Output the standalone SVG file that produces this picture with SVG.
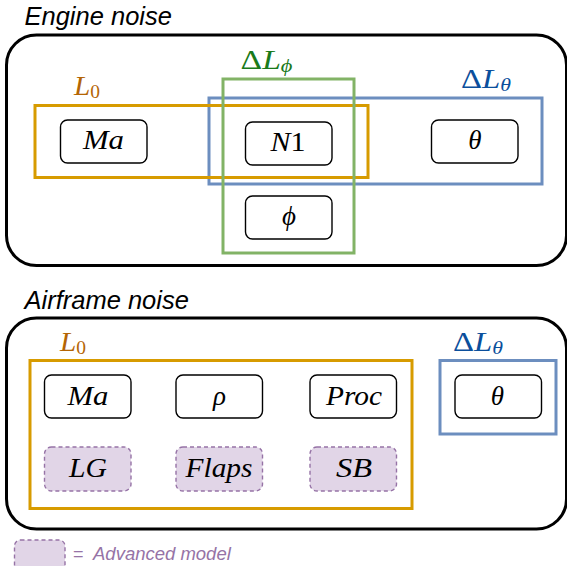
<svg xmlns="http://www.w3.org/2000/svg" width="567" height="566" viewBox="0 0 567 566">
<style>
.title{font-family:"Liberation Sans",Arial,sans-serif;font-style:italic;font-size:25.5px;fill:#000}
.outer{fill:none;stroke:#000;stroke-width:3}
.node rect{fill:#fff;stroke:#000;stroke-width:1.4}
.adv rect{fill:#e1d5e7;stroke:#9673a6;stroke-width:1.4;stroke-dasharray:4 3}
.m{font-family:"Liberation Serif","Times New Roman",serif;font-style:italic;font-size:27px;fill:#000;text-anchor:middle}
.lab{font-family:"Liberation Serif","Times New Roman",serif;font-size:27px}
.sub{font-size:18px}
.org{fill:none;stroke:#d79b00;stroke-width:3}
.blu{fill:none;stroke:#6c8ebf;stroke-width:3}
.grn{fill:none;stroke:#82b366;stroke-width:3}
</style>
<text class="title" x="24.5" y="25">Engine noise</text>
<rect class="outer" x="6.5" y="35" width="560" height="230.5" rx="30"/>
<g id="engine-groups">
<rect class="blu" x="209" y="98" width="333" height="86"/>
<rect class="org" x="35" y="105.5" width="333" height="72"/>
<rect class="grn" x="223" y="79" width="131" height="174"/>
</g>
<text class="lab" x="74" y="95" fill="#b46504" textLength="26" lengthAdjust="spacingAndGlyphs"><tspan font-style="italic">L</tspan><tspan class="sub" dy="3">0</tspan></text>
<text class="lab" x="240.5" y="69" fill="#1a7a1a" textLength="52" lengthAdjust="spacingAndGlyphs">Δ<tspan font-style="italic">L</tspan><tspan class="sub" font-style="italic" dy="3">ϕ</tspan></text>
<text class="lab" x="461" y="88" fill="#0b4f9c" textLength="50" lengthAdjust="spacingAndGlyphs">Δ<tspan font-style="italic">L</tspan><tspan class="sub" font-style="italic" dy="3">θ</tspan></text>
<g id="e-ma" class="node"><rect x="60.5" y="120" width="86.5" height="43" rx="7"/><text class="m" x="103.5" y="149" textLength="41" lengthAdjust="spacingAndGlyphs">Ma</text></g>
<g id="e-n1" class="node"><rect x="245.5" y="122" width="86.5" height="43" rx="7"/><text class="m" x="288" y="151" textLength="35" lengthAdjust="spacingAndGlyphs">N<tspan font-style="normal">1</tspan></text></g>
<g id="e-theta" class="node"><rect x="431.5" y="120" width="86.5" height="43" rx="7"/><text class="m" x="475" y="149">θ</text></g>
<g id="e-phi" class="node"><rect x="245.5" y="196" width="86.5" height="43" rx="7"/><text class="m" x="289" y="225">ϕ</text></g>

<text class="title" x="24.5" y="309">Airframe noise</text>
<rect class="outer" x="6.5" y="318" width="560" height="211" rx="30"/>
<text class="lab" x="60" y="351" fill="#b46504" textLength="26" lengthAdjust="spacingAndGlyphs"><tspan font-style="italic">L</tspan><tspan class="sub" dy="3">0</tspan></text>
<text class="lab" x="453" y="351" fill="#0b4f9c" textLength="50" lengthAdjust="spacingAndGlyphs">Δ<tspan font-style="italic">L</tspan><tspan class="sub" font-style="italic" dy="3">θ</tspan></text>
<g id="airframe-groups">
<rect class="org" x="30" y="360.5" width="382" height="148"/>
<rect class="blu" x="440" y="360.5" width="116" height="73.5"/>
</g>
<g id="a-ma" class="node"><rect x="44.5" y="375" width="86.5" height="43" rx="7"/><text class="m" x="88" y="405" textLength="41" lengthAdjust="spacingAndGlyphs">Ma</text></g>
<g id="a-rho" class="node"><rect x="176" y="375" width="86.5" height="43" rx="7"/><text class="m" x="219.5" y="405">ρ</text></g>
<g id="a-proc" class="node"><rect x="310" y="375" width="86.5" height="43" rx="7"/><text class="m" x="354" y="405" textLength="56" lengthAdjust="spacingAndGlyphs">Proc</text></g>
<g id="a-theta" class="node"><rect x="455" y="375" width="86.5" height="43" rx="7"/><text class="m" x="497.5" y="405">θ</text></g>
<g id="a-lg" class="adv"><rect x="44.5" y="447" width="86.5" height="44" rx="7"/><text class="m" x="88" y="477" textLength="38" lengthAdjust="spacingAndGlyphs">LG</text></g>
<g id="a-flaps" class="adv"><rect x="176" y="447" width="86.5" height="44" rx="7"/><text class="m" x="219" y="477" textLength="67" lengthAdjust="spacingAndGlyphs">Flaps</text></g>
<g id="a-sb" class="adv"><rect x="310" y="447" width="86.5" height="44" rx="7"/><text class="m" x="354" y="477" textLength="36" lengthAdjust="spacingAndGlyphs">SB</text></g>
<g id="connectors"></g>
<g id="legend" class="adv"><rect x="14.5" y="540" width="50.5" height="36" rx="6"/>
<text x="73" y="560" font-family="Liberation Sans,Arial,sans-serif" font-size="18" fill="#9673a6">=</text>
<text x="93" y="560" font-family="Liberation Sans,Arial,sans-serif" font-style="italic" font-size="18.5" fill="#9673a6">Advanced model</text></g>
</svg>
